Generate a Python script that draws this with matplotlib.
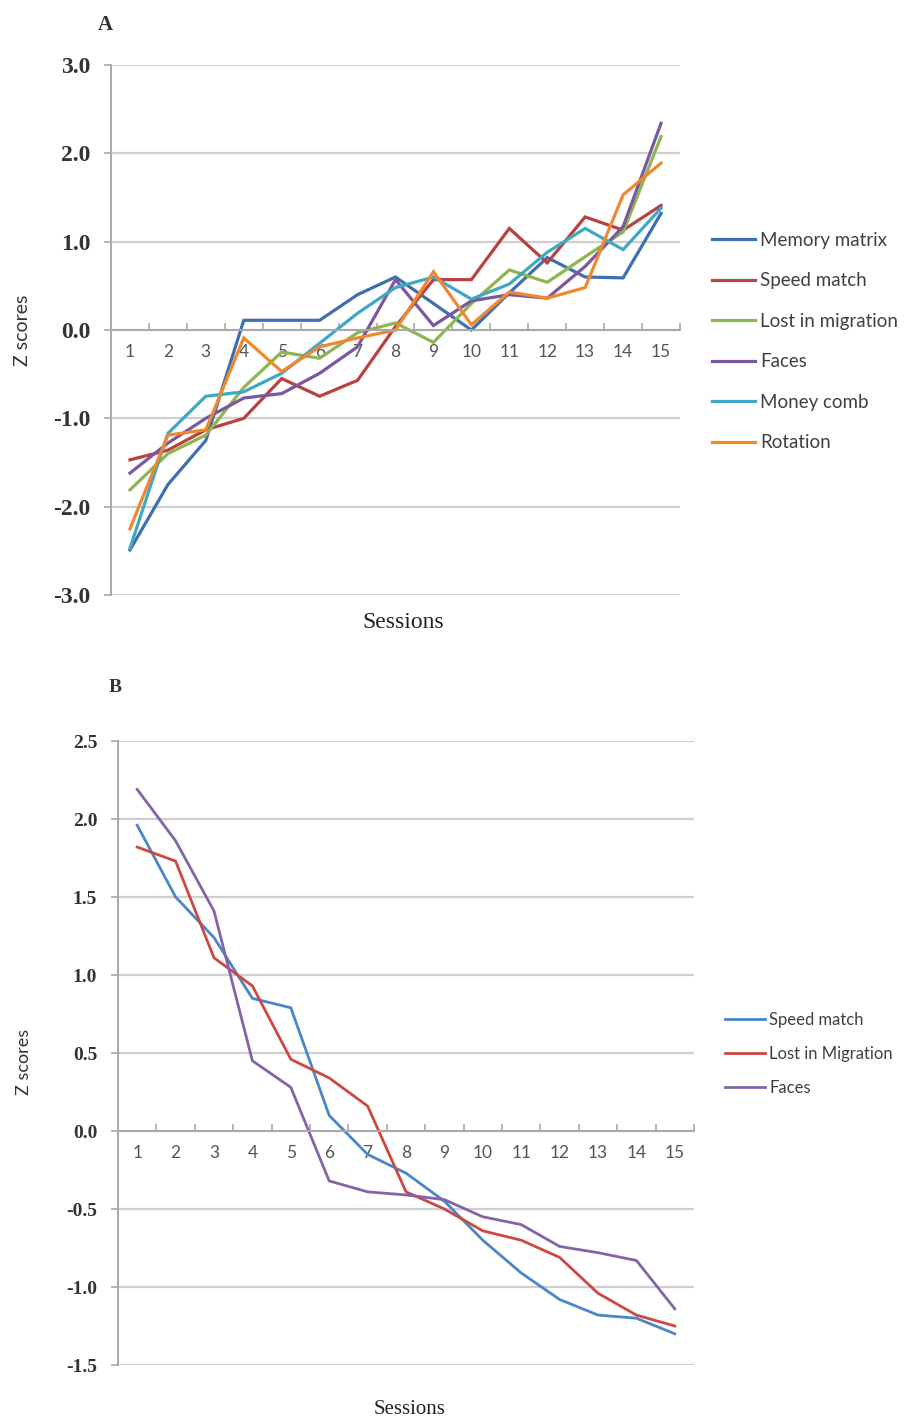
import matplotlib
matplotlib.use("Agg")
import matplotlib.pyplot as plt
import numpy as np

sessions = list(range(1, 16))

# Panel A: z scores per game over sessions
memory_matrix = [-2.49, -1.75, -1.25, 0.11, 0.11, 0.11, 0.40, 0.60, 0.30, 0.00, 0.42, 0.82, 0.60, 0.59, 1.32]
speed_match_a = [-1.47, -1.36, -1.13, -1.00, -0.55, -0.75, -0.57, 0.04, 0.57, 0.57, 1.15, 0.76, 1.28, 1.13, 1.41]
lost_in_migration_a = [-1.81, -1.40, -1.19, -0.65, -0.25, -0.32, -0.03, 0.08, -0.14, 0.30, 0.68, 0.54, 0.83, 1.11, 2.19]
faces_a = [-1.62, -1.28, -1.00, -0.77, -0.72, -0.49, -0.19, 0.57, 0.05, 0.33, 0.40, 0.36, 0.72, 1.17, 2.34]
money_comb = [-2.47, -1.17, -0.75, -0.70, -0.49, -0.15, 0.19, 0.48, 0.60, 0.35, 0.52, 0.88, 1.15, 0.91, 1.38]
rotation = [-2.25, -1.19, -1.13, -0.09, -0.47, -0.19, -0.09, 0.00, 0.66, 0.06, 0.43, 0.36, 0.48, 1.53, 1.89]

labels_a = ["Memory matrix", "Speed match", "Lost in migration", "Faces", "Money comb", "Rotation"]
series_a = [memory_matrix, speed_match_a, lost_in_migration_a, faces_a, money_comb, rotation]
colors_a = ["#3f6fb0", "#b9413e", "#8fb54e", "#7a57a0", "#3fa8c4", "#f0882f"]

# Panel B
speed_match_b = [1.96, 1.50, 1.24, 0.85, 0.79, 0.10, -0.15, -0.27, -0.45, -0.70, -0.91, -1.08, -1.18, -1.20, -1.30]
lost_in_migration_b = [1.82, 1.73, 1.11, 0.93, 0.46, 0.34, 0.16, -0.39, -0.50, -0.64, -0.70, -0.81, -1.04, -1.18, -1.25]
faces_b = [2.19, 1.86, 1.41, 0.45, 0.28, -0.32, -0.39, -0.41, -0.44, -0.55, -0.60, -0.74, -0.78, -0.83, -1.14]

labels_b = ["Speed match", "Lost in Migration", "Faces"]
series_b = [speed_match_b, lost_in_migration_b, faces_b]
colors_b = ["#4a86c8", "#cc4843", "#8464a8"]

W, H = 913, 1421
fig = plt.figure(figsize=(W / 100, H / 100), dpi=100)

grid_col = "#cfcfcf"
axis_col = "#a8a8a8"
serif = "Liberation Serif"
sans = "Lato"


def style_axes(ax, yticks, ytick_size, fmt):
    ax.set_xlim(0.5, 15.5)
    ax.set_ylim(yticks[0], yticks[-1])
    ax.set_yticks(yticks)
    ax.set_yticklabels([fmt % v for v in yticks], fontfamily=serif, fontsize=ytick_size,
                       color="#333333", fontweight="bold")
    ax.yaxis.grid(True, color=grid_col, lw=1.6)
    ax.set_axisbelow(True)
    for s in ["top", "right"]:
        ax.spines[s].set_visible(False)
    ax.spines["left"].set_color(axis_col)
    ax.spines["left"].set_linewidth(1.4)
    ax.spines["bottom"].set_position(("data", 0))
    ax.spines["bottom"].set_color(axis_col)
    ax.spines["bottom"].set_linewidth(1.4)
    ax.tick_params(axis="y", length=5, color=axis_col, width=1.2, pad=10)
    ax.set_xticks(sessions)
    ax.set_xticklabels([str(s) for s in sessions], fontfamily=sans, fontsize=12.5, color="#555555")
    ax.tick_params(axis="x", which="major", length=0, pad=10)
    ax.set_xticks(np.arange(1.5, 15.6, 1), minor=True)
    ax.tick_params(axis="x", which="minor", direction="in", length=5, color=axis_col, width=1.2)


# ---- Panel A ----
axA = fig.add_axes([111 / W, 1 - 595 / H, 569 / W, 530 / H])
for vals, lab, col in zip(series_a, labels_a, colors_a):
    axA.plot(sessions, vals, color=col, lw=2.3, label=lab, solid_joinstyle="miter")
style_axes(axA, [-3.0, -2.0, -1.0, 0.0, 1.0, 2.0, 3.0], 17, "%.1f")
legA = axA.legend(loc="upper left", bbox_to_anchor=(712 / W, 1 - 232 / H), bbox_transform=fig.transFigure,
                  frameon=False, borderpad=0, borderaxespad=0, handlelength=2.3, handletextpad=0.25,
                  labelspacing=1.25, prop={"family": sans, "size": 13.5})
for t in legA.get_texts():
    t.set_color("#404040")

fig.text(105 / W, 1 - 25 / H, "A", fontfamily=serif, fontsize=15, fontweight="bold", color="#333333",
         ha="center", va="center")
fig.text(403 / W, 1 - 622 / H, "Sessions", fontfamily=serif, fontsize=17, color="#222222",
         ha="center", va="center")
fig.text(22 / W, 1 - 330 / H, "Z scores", fontfamily=sans, fontsize=14, color="#333333",
         ha="center", va="center", rotation=90)

# ---- Panel B ----
axB = fig.add_axes([118 / W, 1 - 1365 / H, 576 / W, 624 / H])
for vals, lab, col in zip(series_b, labels_b, colors_b):
    axB.plot(sessions, vals, color=col, lw=2.0, label=lab)
style_axes(axB, [-1.5, -1.0, -0.5, 0.0, 0.5, 1.0, 1.5, 2.0, 2.5], 14, "%.1f")
legB = axB.legend(loc="upper left", bbox_to_anchor=(725 / W, 1 - 1012 / H), bbox_transform=fig.transFigure,
                  frameon=False, borderpad=0, borderaxespad=0, handlelength=2.4, handletextpad=0.25,
                  labelspacing=1.08, prop={"family": sans, "size": 12})
for t in legB.get_texts():
    t.set_color("#404040")

fig.text(115 / W, 1 - 688 / H, "B", fontfamily=serif, fontsize=14, fontweight="bold", color="#333333",
         ha="center", va="center")
fig.text(410 / W, 1 - 1410 / H, "Sessions", fontfamily=serif, fontsize=15, color="#222222",
         ha="center", va="center")
fig.text(24 / W, 1 - 1062 / H, "Z scores", fontfamily=sans, fontsize=13, color="#333333",
         ha="center", va="center", rotation=90)

fig.savefig("out.png", dpi=100)
